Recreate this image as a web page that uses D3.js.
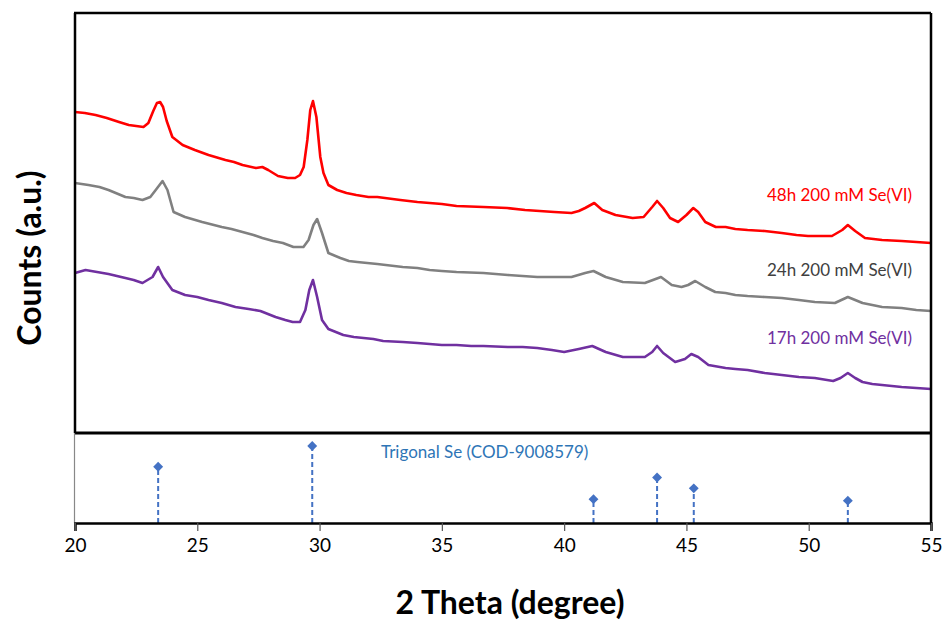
<!DOCTYPE html>
<html><head><meta charset="utf-8">
<script src="https://cdn.jsdelivr.net/npm/d3@7"></script>
<style>body{margin:0;background:#fff}svg{display:block}</style>
</head><body>
<svg id="c" width="945" height="622"></svg>
<script>
// ---- data (2θ, counts a.u.) ----
const series48h = [[20.0,321],[20.4,320],[20.84,318],[21.3,315],[21.8,311],[22.2,308],[22.5,307],[22.8,306],[23.0,310],[23.2,322],[23.35,330],[23.48,331],[23.6,326],[23.75,312],[23.98,296],[24.4,288],[24.9,283],[25.46,278],[26.15,273],[26.5,271],[26.85,268],[27.4,265],[27.66,266],[27.9,263],[28.3,257],[28.7,255],[29.0,255],[29.2,258],[29.35,266],[29.5,293],[29.62,323],[29.73,332],[29.87,316],[30.03,276],[30.16,260],[30.36,248],[30.72,243],[31.1,240],[31.5,238],[32.0,236],[32.36,236],[33.3,233],[34.0,231],[34.5,230],[35.0,229],[35.6,227],[36.7,226],[37.67,225],[38.4,223],[39.0,222],[39.6,221],[40.3,220],[40.6,222],[40.86,225],[41.23,230],[41.56,223],[42.1,218],[42.8,215],[43.25,216],[43.6,226],[43.8,232],[44.05,225],[44.33,215],[44.66,211],[45.0,218],[45.28,225],[45.48,221],[45.77,211],[46.2,206],[46.6,206],[47.0,204],[47.5,203],[48.2,202],[48.9,200],[49.5,198],[49.97,197],[50.5,197],[50.95,197],[51.37,203],[51.6,208],[51.9,202],[52.3,195],[53.0,193],[53.8,192],[54.4,191],[55.0,190]];
const series24h = [[20.0,250],[20.55,248],[21.0,246],[21.37,243],[22.06,236],[22.4,235],[22.76,233],[23.08,236],[23.3,243],[23.58,252],[23.78,243],[24.03,221],[24.5,216],[25.2,211],[26.0,206],[26.4,204],[26.85,201],[27.3,198],[27.66,195],[28.1,192],[28.5,190],[28.93,186],[29.34,186],[29.55,193],[29.75,208],[29.9,214],[30.1,200],[30.36,180],[30.85,175],[31.2,172],[31.54,171],[32.36,169],[33.4,166],[34.0,165],[34.5,163],[35.0,162],[35.6,161],[36.7,160],[37.7,158],[38.3,157],[38.9,156],[39.6,156],[40.3,156],[40.86,160],[41.2,162],[41.7,156],[42.4,151],[43.3,150],[43.96,156],[44.4,148],[44.8,146],[45.07,148],[45.36,152],[45.77,146],[46.18,141],[46.6,140],[47.0,138],[47.5,137],[48.2,136],[48.9,135],[49.6,133],[50.25,131],[51.07,130],[51.6,136],[52.2,130],[52.6,128],[53.0,126],[53.8,125],[54.4,123],[55.0,122]];
const series17h = [[20.0,160],[20.43,163],[20.9,161],[21.37,159],[22.06,155],[22.4,153],[22.76,150],[23.17,156],[23.4,166],[23.6,156],[23.98,143],[24.5,138],[25.0,136],[25.46,133],[26.0,130],[26.56,126],[27.1,124],[27.58,122],[28.2,116],[28.6,113],[28.9,111],[29.2,111],[29.42,123],[29.58,143],[29.73,153],[29.9,136],[30.1,113],[30.36,104],[30.97,98],[31.4,96],[31.8,95],[32.2,94],[32.6,92],[33.4,91],[34.0,90],[34.5,89],[35.0,88],[35.6,88],[36.2,87],[36.7,87],[37.7,86],[38.3,86],[38.9,85],[39.5,83],[40.0,81],[40.6,84],[41.15,87],[41.7,81],[42.4,76],[43.0,76],[43.3,76],[43.6,81],[43.8,87],[44.05,80],[44.54,71],[44.94,74],[45.2,79],[45.48,76],[45.9,68],[46.6,65],[47.0,64],[47.5,63],[48.2,60],[48.9,58],[49.6,56],[50.25,55],[51.0,52],[51.3,55],[51.6,60],[51.9,55],[52.2,51],[52.6,49],[53.0,48],[53.8,46],[54.4,45],[55.0,44]];
const seriesNames = ["48h 200 mM Se(VI)","24h 200 mM Se(VI)","17h 200 mM Se(VI)"];
const refPeaks = [23.4, 29.7, 41.2, 43.8, 45.3, 51.6];
const refIntensity = [73, 100, 31, 59, 45, 29];
const refName = "Trigonal Se (COD-9008579)";
const xTicks = [20,25,30,35,40,45,50,55];
const xTitle = "2 Theta (degree)";
const yTitle = "Counts (a.u.)";

// ---- layout ----
const L=75, R=931, T=13, MID=433, B=523;
const svg = d3.select("#c");
const x = d3.scaleLinear().domain([20,55]).range([L,R]);
const y = d3.scaleLinear().domain([0,420]).range([MID,T]);
const y2 = d3.scaleLinear().domain([0,100]).range([B,446]);

const traces = [
  {d:series48h, c:"#FF0000", tc:"#FF0000", ly:195},
  {d:series24h, c:"#808080", tc:"#404040", ly:270},
  {d:series17h, c:"#7030A0", tc:"#7030A0", ly:338}
];
const line = d3.line().x(d=>x(d[0])).y(d=>y(d[1])).curve(d3.curveLinear);
traces.forEach((t,i)=>{
  svg.append("path").attr("d",line(t.d)).attr("fill","none")
    .attr("stroke",t.c).attr("stroke-width",2.6).attr("stroke-linejoin","round");
  svg.append("text").attr("x",912).attr("y",t.ly).attr("dy","0.35em")
    .attr("text-anchor","end").attr("fill",t.tc)
    .style("font-family","Lato").style("font-size","17px").text(seriesNames[i]);
});

// reference stems
refPeaks.forEach((p,i)=>{
  svg.append("line").attr("x1",x(p)).attr("x2",x(p)).attr("y1",B).attr("y2",y2(refIntensity[i]))
    .attr("stroke","#4472C4").attr("stroke-width",2).attr("stroke-dasharray","5,3");
  svg.append("rect").attr("x",-3.5).attr("y",-3.5).attr("width",7).attr("height",7)
    .attr("transform",`translate(${x(p)},${y2(refIntensity[i])}) rotate(45)`).attr("fill","#4472C4");
});
svg.append("text").attr("x",381).attr("y",452).attr("dy","0.35em").attr("fill","#2E75B6")
  .style("font-family","Lato").style("font-size","17px").text(refName);

// frames
svg.append("line").attr("x1",L).attr("x2",L).attr("y1",T).attr("y2",MID).attr("stroke","#000").attr("stroke-width",2.5);
svg.append("line").attr("x1",L-1).attr("x2",R).attr("y1",T).attr("y2",T).attr("stroke","#000").attr("stroke-width",2.5);
svg.append("line").attr("x1",R).attr("x2",R).attr("y1",T).attr("y2",B).attr("stroke","#000").attr("stroke-width",2.5);
svg.append("line").attr("x1",L-1).attr("x2",R).attr("y1",MID).attr("y2",MID).attr("stroke","#000").attr("stroke-width",3);
svg.append("line").attr("x1",L-0.5).attr("x2",L-0.5).attr("y1",MID).attr("y2",B).attr("stroke","#888").attr("stroke-width",1.2);

// x axis
const xa = svg.append("g").attr("transform",`translate(0,${B})`)
  .call(d3.axisBottom(x).tickValues(xTicks).tickSize(8).tickPadding(8).tickFormat(d3.format("d")));
xa.select(".domain").attr("stroke","#000").attr("stroke-width",2.5);
xa.selectAll(".tick line").attr("stroke","#555").attr("stroke-width",1.2);
xa.selectAll(".tick text").style("font-family","Lato").style("font-size","19px").attr("fill","#000");

svg.append("text").attr("x",510).attr("y",603).attr("dy","0.35em").attr("text-anchor","middle")
  .style("font-family","Lato").style("font-weight","bold").style("font-size","32px").text(xTitle);
svg.append("text").attr("transform","translate(30,258) rotate(-90)").attr("dy","0.35em").attr("text-anchor","middle")
  .style("font-family","Lato").style("font-weight","bold").style("font-size","32px").text(yTitle);
</script>
</body></html>
